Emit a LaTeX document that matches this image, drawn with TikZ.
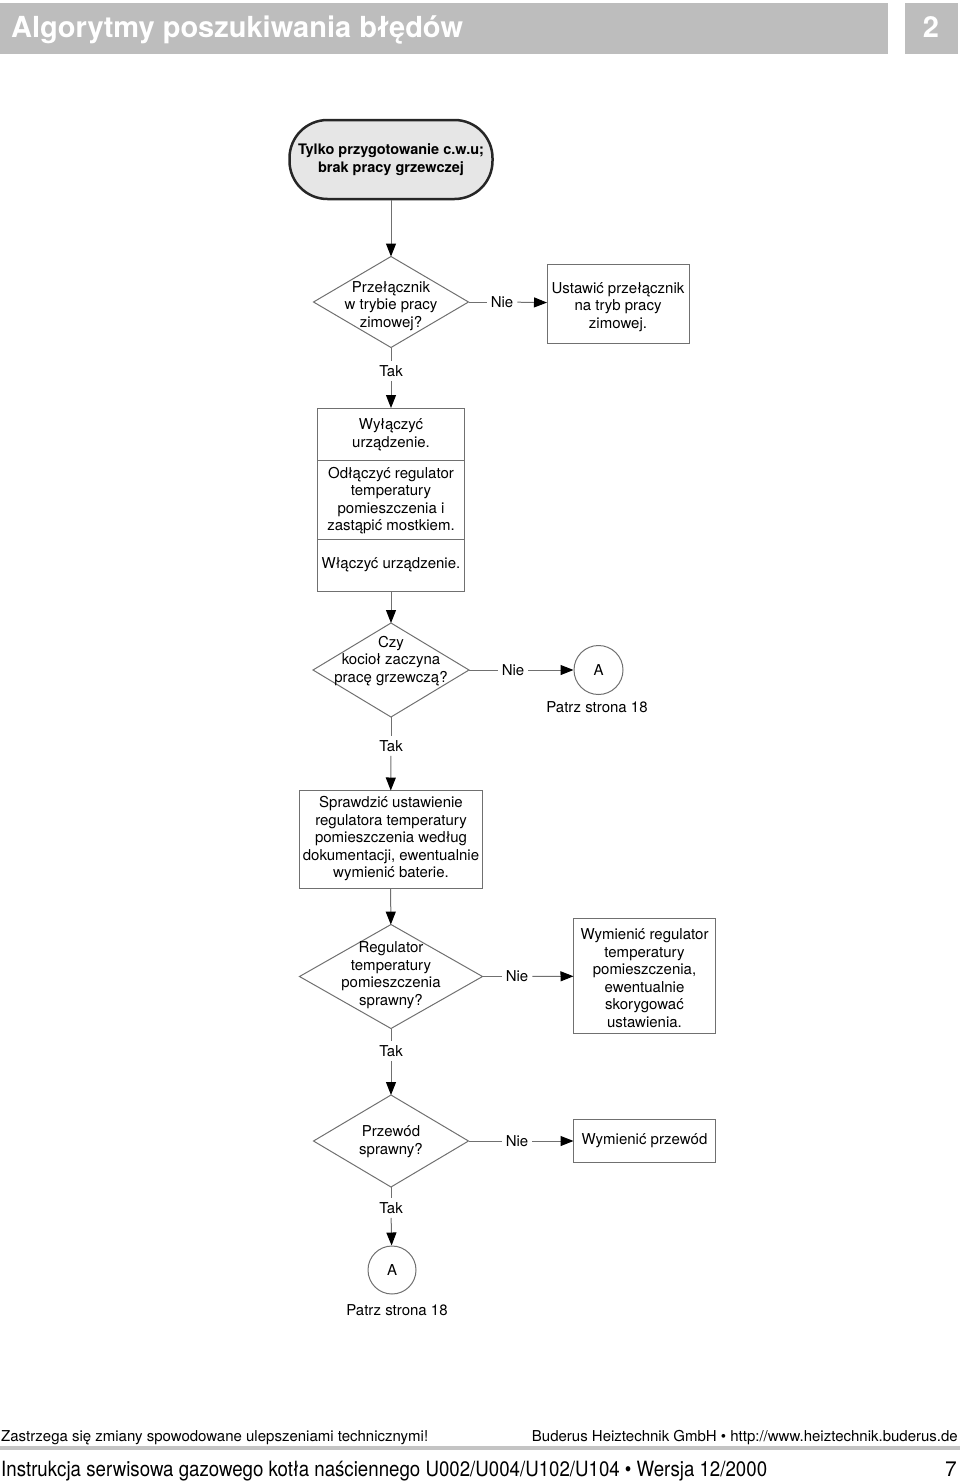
\documentclass[tikz,border=0pt]{standalone}
\usepackage{fontspec}
\setmainfont{TeX Gyre Heros}
\usetikzlibrary{shapes.geometric,arrows.meta}
\definecolor{linegray}{HTML}{707070}
\definecolor{bargray}{HTML}{BDBDBD}
\definecolor{termfill}{HTML}{E6E6E6}
\definecolor{rulegray}{HTML}{C4C4C4}

\begin{document}
\begin{tikzpicture}[x=1pt,y=-1pt,
		txt/.style={align=center,inner sep=0pt,font=\fontsize{15}{17.5}\selectfont},
		lbl/.style={txt,inner sep=4pt},
		box/.style={draw=linegray,line width=1pt,inner sep=0pt,outer sep=0pt},
		decision/.style={draw=linegray,line width=1pt,diamond,inner sep=0pt,outer sep=0pt},
		conn/.style={linegray,line width=1pt},
		arr/.style={linegray,line width=1pt,-{Triangle[length=13pt,width=10pt,black]}}]
			\useasboundingbox (0,0) rectangle (960,1481);

			% header
			\fill [bargray] (0,3) rectangle (888,54);
			\fill [bargray] (905,3) rectangle (958,54);
			\node [anchor=base west,text=white,inner sep=0pt](title) at (11,37) {\fontsize{29}{31}\selectfont\bfseries Algorytmy poszukiwania błędów};
			\node [anchor=base,text=white,inner sep=0pt](chap) at (931,37) {\fontsize{29}{31}\selectfont\bfseries 2};

			% nodes
			\node [draw=black!85,line width=2.5pt,fill=termfill,rounded corners=38pt,minimum width=203pt,minimum height=79pt,inner sep=0pt,align=center,font=\fontsize{14.5}{17.5}\selectfont\bfseries](start) at (391,159.5) {Tylko przygotowanie c.w.u;\\brak pracy grzewczej};

			\node [decision,minimum width=155pt,minimum height=91pt](d1) at (391,302) {};
			\node [txt](d1t) at (391,306) {Przełącznik\\w trybie pracy\\zimowej?};
			\node [box,minimum width=142pt,minimum height=79pt](b1) at (618,303.5) {};
			\node [txt](b1t) at (618,307) {Ustawić przełącznik\\na tryb pracy\\zimowej.};
			\node [lbl](nie1) at (502,302) {Nie};
			\node [lbl](tak1) at (391,371) {Tak};

			\node [box,minimum width=147pt,minimum height=183pt](b2) at (391,499.5) {};
			\node [txt](b2a) at (391,435) {Wyłączyć\\urządzenie.};
			\node [txt](b2b) at (391,500.5) {Odłączyć regulator\\temperatury\\pomieszczenia i\\zastąpić mostkiem.};
			\node [txt](b2c) at (391,565) {Włączyć urządzenie.};
			\draw [conn](b2.west |- 0,460) -- (b2.east |- 0,460);
			\draw [conn](b2.west |- 0,539) -- (b2.east |- 0,539);

			\node [decision,minimum width=156pt,minimum height=94pt](d2) at (391,670) {};
			\node [txt](d2t) at (391,661) {Czy\\kocioł zaczyna\\pracę grzewczą?};
			\node [lbl](nie2) at (513,670) {Nie};
			\node [draw=linegray,line width=1pt,circle,minimum size=49pt,inner sep=0pt,font=\fontsize{15}{17.5}\selectfont](a1) at (598.5,670) {A};
			\node [txt](a1t) at (597,707) {Patrz strona 18};
			\node [lbl](tak2) at (391,746) {Tak};

			\node [box,minimum width=183pt,minimum height=98pt](b3) at (390.5,839.5) {};
			\node [txt](b3t) at (391,839) {Sprawdzić ustawienie\\regulatora temperatury\\pomieszczenia według\\dokumentacji, ewentualnie\\wymienić baterie.};

			\node [decision,minimum width=183pt,minimum height=104pt](d3) at (391,976.5) {};
			\node [txt](d3t) at (391,975) {Regulator\\temperatury\\pomieszczenia\\sprawny?};
			\node [lbl](nie3) at (517,976.5) {Nie};
			\node [box,minimum width=142pt,minimum height=115pt](b4) at (644.5,976) {};
			\node [txt](b4t) at (644.5,978) {Wymienić regulator\\temperatury\\pomieszczenia,\\ewentualnie\\skorygować\\ustawienia.};
			\node [lbl](tak3) at (391,1051) {Tak};

			\node [decision,minimum width=155pt,minimum height=92pt](d4) at (391,1141) {};
			\node [txt](d4t) at (391,1141.5) {Przewód\\sprawny?};
			\node [lbl](nie4) at (517,1141) {Nie};
			\node [box,minimum width=142pt,minimum height=43pt](b5) at (644.5,1141) {};
			\node [txt](b5t) at (644.5,1141) {Wymienić przewód};
			\node [lbl](tak4) at (391,1208) {Tak};

			\node [draw=linegray,line width=1pt,circle,minimum size=48pt,inner sep=0pt,font=\fontsize{15}{17.5}\selectfont](a2) at (392,1270) {A};
			\node [txt](a2t) at (397,1310) {Patrz strona 18};

			% connectors
			\draw [arr](start) -- (d1);
			\draw [conn](d1) -- (nie1);
			\draw [arr](nie1) -- (b1);
			\draw [conn](d1) -- (tak1);
			\draw [arr](tak1) -- (b2);
			\draw [arr](b2) -- (d2);
			\draw [conn](d2) -- (nie2);
			\draw [arr](nie2) -- (a1);
			\draw [conn](d2) -- (tak2);
			\draw [arr](tak2) -- (b3);
			\draw [arr](b3) -- (d3);
			\draw [conn](d3) -- (nie3);
			\draw [arr](nie3) -- (b4);
			\draw [conn](d3) -- (tak3);
			\draw [arr](tak3) -- (d4);
			\draw [conn](d4) -- (nie4);
			\draw [arr](nie4) -- (b5);
			\draw [conn](d4) -- (tak4);
			\draw [arr](tak4) -- (a2);

			% footer
			\node [anchor=base west,inner sep=0pt](foot1) at (1,1441) {\fontsize{15}{18}\selectfont Zastrzega się zmiany spowodowane ulepszeniami technicznymi!};
			\node [anchor=base east,inner sep=0pt](foot2) at (958,1441) {\fontsize{15}{18}\selectfont Buderus Heiztechnik GmbH • http://www.heiztechnik.buderus.de};
			\fill [rulegray] (0,1446) rectangle (960,1450);
			\node [anchor=base west,inner sep=0pt](foot3) at (1,1476) {\fontsize{21}{24}\selectfont\scalebox{.89}[1]{Instrukcja serwisowa gazowego kotła naściennego U002/U004/U102/U104 • Wersja 12/2000}};
			\node [anchor=base east,inner sep=0pt](page) at (957,1476) {\fontsize{21}{24}\selectfont 7};

		\end{tikzpicture}
\end{document}
